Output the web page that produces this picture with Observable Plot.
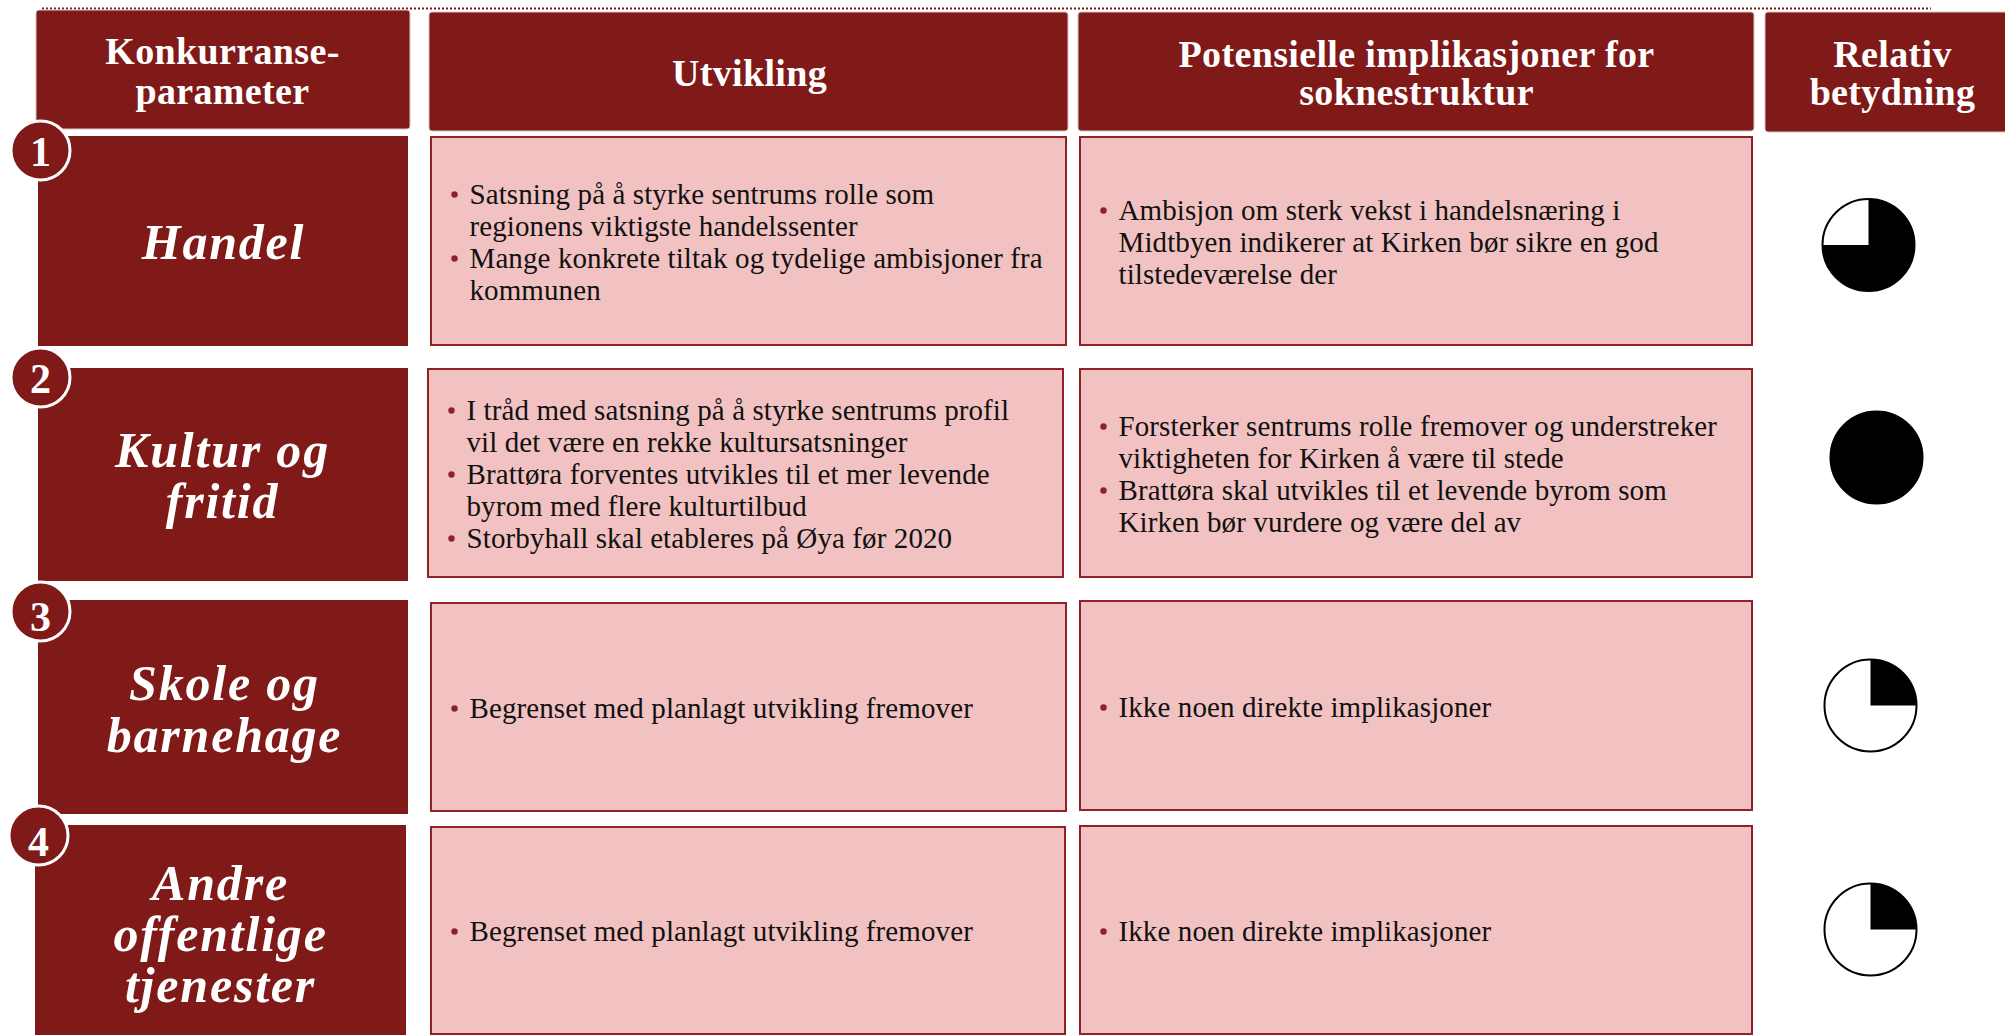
<!DOCTYPE html>
<html lang="no"><head><meta charset="utf-8">
<style>html,body{margin:0;padding:0;background:#fff}svg{display:block}
g[font-size="29"]{letter-spacing:.1px}
g[font-size="38"]{letter-spacing:.35px}
g[font-size="50"]{letter-spacing:1.8px}
</style>
<script src="https://cdn.jsdelivr.net/npm/d3@7"></script>
<script src="https://cdn.jsdelivr.net/npm/@observablehq/plot@0.6"></script>
</head><body><div id="chart"></div>
<script>
// ---- content ----
const headers = [["Konkurranse-","parameter"],["Utvikling"],["Potensielle implikasjoner for","soknestruktur"],["Relativ","betydning"]];
const rowNames = [["Handel"],["Kultur og","fritid"],["Skole og","barnehage"],["Andre","offentlige","tjenester"]];
const rowNumbers = ["1","2","3","4"];
// Each entry is one bullet; each bullet is its wrapped lines.
const development = [
  [["Satsning på å styrke sentrums rolle som","regionens viktigste handelssenter"],["Mange konkrete tiltak og tydelige ambisjoner fra","kommunen"]],
  [["I tråd med satsning på å styrke sentrums profil","vil det være en rekke kultursatsninger"],["Brattøra forventes utvikles til et mer levende","byrom med flere kulturtilbud"],["Storbyhall skal etableres på Øya før 2020"]],
  [["Begrenset med planlagt utvikling fremover"]],
  [["Begrenset med planlagt utvikling fremover"]]
];
const implications = [
  [["Ambisjon om sterk vekst i handelsnæring i","Midtbyen indikerer at Kirken bør sikre en god","tilstedeværelse der"]],
  [["Forsterker sentrums rolle fremover og understreker","viktigheten for Kirken å være til stede"],["Brattøra skal utvikles til et levende byrom som","Kirken bør vurdere og være del av"]],
  [["Ikke noen direkte implikasjoner"]],
  [["Ikke noen direkte implikasjoner"]]
];
const importance = [0.75, 1, 0.25, 0.25];

// ---- layout (separate from the content) ----
const W = 2005, H = 1035;
const DARK = "#7f1a19", PINK = "#f2c2c3", EDGE = "#8e2226";
const SERIF = "'Liberation Serif', 'DejaVu Serif', serif";
const headerBoxes = [[36,410,10,129],[429,1068,12,131],[1078,1754,12,131],[1765,2010,12,132]];
const headerCx = [222,749,1416,1892];
const headerYs = [[51,91],[73],[54,92],[54,92]];
const rowBoxes = [[38,408,136,346],[38,408,368,581],[38,408,600,814],[35,406,825,1036]];
const rowCx = [223,222,224,220];
const rowYs = [[242],[450,501],[683,735],[883,934,985]];
const devBoxes = [[431,1066,137,345],[428,1063,369,577],[431,1066,603,811],[431,1065,827,1034]];
const impBoxes = [[1080,1752,137,345],[1080,1752,369,577],[1080,1752,601,810],[1080,1752,826,1034]];
const devTextX = [469,466,469,469], devTopY = [194,410,708,931];
const impTextX = [1118,1118,1118,1118], impTopY = [210,426,707,931];
const numCx = [40,40,40,38], numCy = [150,377,611,835], numTextY = [152,379,617,842];
const pieCx = [1868,1876,1870,1870], pieCy = [244.5,457,705,929];
const PIE_R = 46, LINE = 32, BULLET_DX = 15;

const boxRows = b => b.map(([x1,x2,y1,y2]) => ({x1,x2,y1,y2}));
const headerText = headers.flatMap((ls,i) => ls.map((t,j) => ({t, x:headerCx[i], y:headerYs[i][j]})));
const rowText = rowNames.flatMap((ls,i) => ls.map((t,j) => ({t, x:rowCx[i], y:rowYs[i][j]})));
function cellLines(cells, xs, ys) {
  const lines = [], bullets = [];
  cells.forEach((cell,i) => {
    let y = ys[i];
    cell.forEach(b => {
      bullets.push({x:xs[i]-BULLET_DX, y:y});
      b.forEach(t => { lines.push({t, x:xs[i], y}); y += LINE; });
    });
  });
  return {lines, bullets};
}
const dev = cellLines(development, devTextX, devTopY);
const imp = cellLines(implications, impTextX, impTopY);
const wedge = f => ({draw(c, size){
  const r = Math.sqrt(size/Math.PI), a = -Math.PI/2;
  if (f >= 1) { c.moveTo(r,0); c.arc(0,0,r,0,2*Math.PI); c.closePath(); return; }
  c.moveTo(0,0); c.arc(0,0,r,a,a+2*Math.PI*f); c.closePath();
}});
const pies = importance.map((f,i) => ({f, x:pieCx[i], y:pieCy[i]}));
const nums = rowNumbers.map((t,i) => ({t, x:numCx[i], y:numCy[i], ty:numTextY[i]}));
const txt = (data, o) => Plot.text(data, {x:"x", y:"y", text:"t", lineAnchor:"middle", fontFamily:SERIF, ...o});

const chart = Plot.plot({
  width:W, height:H, margin:0, style:{background:"#fff", overflow:"hidden"},
  x:{domain:[0,W], range:[0,W], axis:null},
  y:{domain:[0,H], range:[0,H], axis:null},
  marks:[
    Plot.ruleY([8], {x1:42, x2:1931, stroke:DARK, strokeWidth:2, strokeDasharray:"2 2"}),
    Plot.rect(boxRows(headerBoxes), {x1:"x1",x2:"x2",y1:"y1",y2:"y2", fill:DARK, stroke:"#d9c4c4", strokeWidth:1, rx:3}),
    Plot.rect(boxRows(rowBoxes), {x1:"x1",x2:"x2",y1:"y1",y2:"y2", fill:DARK}),
    Plot.rect(boxRows(devBoxes), {x1:"x1",x2:"x2",y1:"y1",y2:"y2", fill:PINK, stroke:EDGE, strokeWidth:2}),
    Plot.rect(boxRows(impBoxes), {x1:"x1",x2:"x2",y1:"y1",y2:"y2", fill:PINK, stroke:EDGE, strokeWidth:2}),
    txt(headerText, {fill:"#fff", fontSize:38, fontWeight:"bold"}),
    txt(rowText, {fill:"#fff", fontSize:50, fontWeight:"bold", fontStyle:"italic"}),
    Plot.dot(dev.bullets.concat(imp.bullets), {x:"x", y:"y", r:3.2, fill:EDGE}),
    txt(dev.lines, {textAnchor:"start", fill:"#111", fontSize:29}),
    txt(imp.lines, {textAnchor:"start", fill:"#111", fontSize:29}),
    Plot.dot(pies, {x:"x", y:"y", r:PIE_R, fill:"#fff", stroke:"#000", strokeWidth:2}),
    ...pies.map(p => Plot.dot([p], {x:"x", y:"y", r:PIE_R, symbol:wedge(p.f), fill:"#000"})),
    Plot.dot(nums, {x:"x", y:"y", r:29.5, fill:DARK, stroke:"#fff", strokeWidth:3}),
    Plot.text(nums, {x:"x", y:"ty", text:"t", lineAnchor:"middle", fill:"#fff", fontFamily:SERIF, fontWeight:"bold", fontSize:42})
  ]
});
document.getElementById("chart").append(chart);
</script></body></html>
